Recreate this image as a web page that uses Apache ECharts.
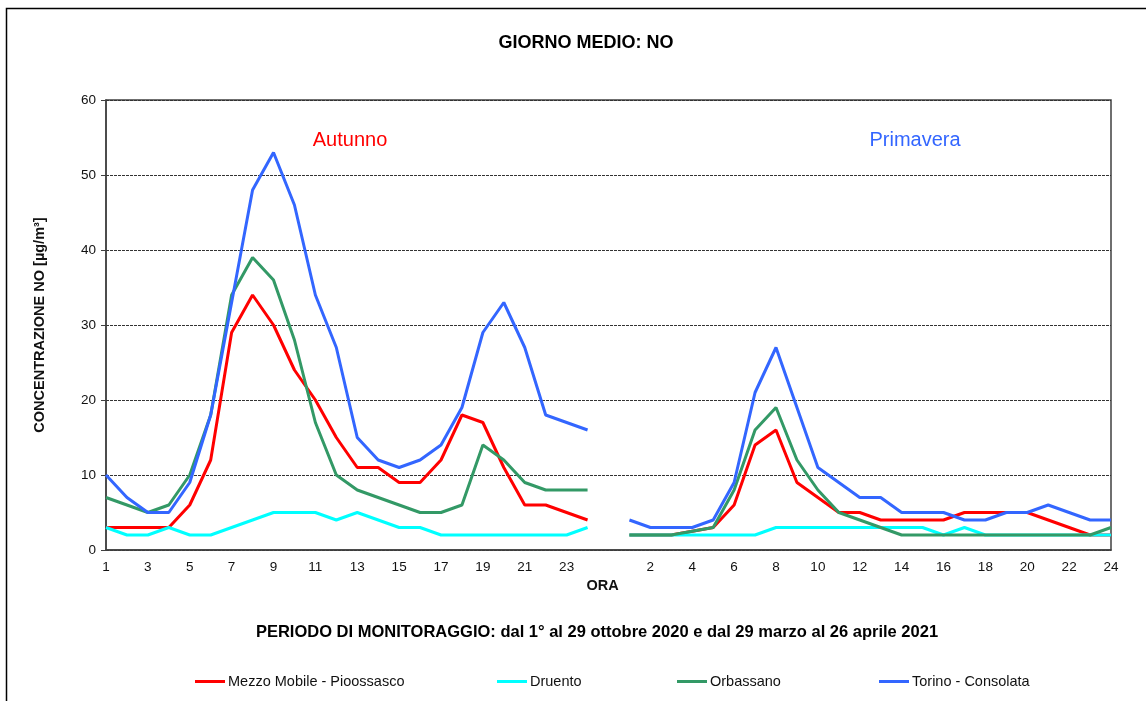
<!DOCTYPE html>
<html>
<head>
<meta charset="utf-8">
<script src="https://cdn.jsdelivr.net/npm/echarts@6/dist/echarts.min.js"></script>
<style>
  html, body { margin: 0; padding: 0; background: #ffffff; }
  #chart { width: 1146px; height: 701px; }
</style>
</head>
<body>
<div id="chart"></div>
<script>
// Hours of the day; the two campaigns share one axis with an empty slot between them
const hoursAutumn = ['1','2','3','4','5','6','7','8','9','10','11','12','13','14','15','16','17','18','19','20','21','22','23','24'];
const hoursSpring = ['1','2','3','4','5','6','7','8','9','10','11','12','13','14','15','16','17','18','19','20','21','22','23','24'];

// Average NO concentration (µg/m³) per hour – autumn campaign
const pioossascoAutumn = [3,3,3,3,6,12,29,34,30,24,20,15,11,11,9,9,12,18,17,11,6,6,5,4];
const druentoAutumn    = [3,2,2,3,2,2,3,4,5,5,5,4,5,4,3,3,2,2,2,2,2,2,2,3];
const orbassanoAutumn  = [7,6,5,6,10,18,34,39,36,28,17,10,8,7,6,5,5,6,14,12,9,8,8,8];
const consolataAutumn  = [10,7,5,5,9,18,33,48,53,46,34,27,15,12,11,12,14,19,29,33,27,18,17,16];

// Average NO concentration (µg/m³) per hour – spring campaign
const pioossascoSpring = [2,2,2,2.5,3,6,14,16,9,7,5,5,4,4,4,4,5,5,5,5,4,3,2,2];
const druentoSpring    = [2,2,2,2,2,2,2,3,3,3,3,3,3,3,3,2,3,2,2,2,2,2,2,2];
const orbassanoSpring  = [2,2,2,2.5,3,8,16,19,12,8,5,4,3,2,2,2,2,2,2,2,2,2,2,3];
const consolataSpring  = [4,3,3,3,4,9,21,27,19,11,9,7,7,5,5,5,4,4,5,5,6,5,4,4];

const yTicks = { min: 0, max: 60, step: 10 };

const categories = hoursAutumn.concat([''], hoursSpring);
const join = (a, b) => a.concat([null], b);

const seriesDefs = [
  { name: 'Mezzo Mobile - Pioossasco', color: '#ff0000', data: join(pioossascoAutumn, pioossascoSpring) },
  { name: 'Druento',                   color: '#00ffff', data: join(druentoAutumn, druentoSpring) },
  { name: 'Orbassano',                 color: '#339966', data: join(orbassanoAutumn, orbassanoSpring) },
  { name: 'Torino - Consolata',        color: '#3366ff', data: join(consolataAutumn, consolataSpring) }
];

const legendLefts = [195, 497, 677, 879];
const baseFont = 'Liberation Sans, Arial, sans-serif';

const chart = echarts.init(document.getElementById('chart'), null, { renderer: 'canvas' });

chart.setOption({
  animation: false,
  backgroundColor: '#ffffff',
  grid: {
    left: 106, right: 35, top: 100, bottom: 151,
    show: true, borderColor: '#404040', borderWidth: 1.5, backgroundColor: 'transparent'
  },
  legend: seriesDefs.map((s, i) => ({
    data: [s.name],
    left: legendLefts[i],
    top: 674,
    icon: 'rect',
    itemWidth: 30,
    itemHeight: 3,
    itemGap: 0,
    padding: 0,
    textStyle: { fontFamily: baseFont, fontSize: 14.5, color: '#111', padding: [0, 0, 0, -2] }
  })),
  xAxis: {
    type: 'category',
    data: categories,
    boundaryGap: false,
    name: 'ORA',
    nameLocation: 'middle',
    nameGap: 25,
    nameTextStyle: { fontFamily: baseFont, fontSize: 14.5, fontWeight: 'bold', color: '#111', padding: [0, 12, 0, 0] },
    axisLine: { lineStyle: { color: '#404040', width: 1.5 } },
    axisTick: { show: false },
    axisLabel: { interval: 1, margin: 10, fontFamily: baseFont, fontSize: 13.5, color: '#111' },
    splitLine: { show: false }
  },
  yAxis: {
    type: 'value',
    min: yTicks.min,
    max: yTicks.max,
    interval: yTicks.step,
    name: 'CONCENTRAZIONE NO [µg/m³]',
    nameLocation: 'middle',
    nameGap: 59,
    nameTextStyle: { fontFamily: baseFont, fontSize: 14.5, fontWeight: 'bold', color: '#111' },
    axisLine: { show: true, lineStyle: { color: '#404040', width: 1.5 } },
    axisTick: { show: true, inside: false, length: 5, lineStyle: { color: '#404040' } },
    axisLabel: { margin: 10, fontFamily: baseFont, fontSize: 13.5, color: '#111' },
    splitLine: { show: true, lineStyle: { color: '#333', width: 1, type: [3, 1] } }
  },
  series: seriesDefs.map(s => ({
    name: s.name,
    type: 'line',
    data: s.data,
    connectNulls: false,
    showSymbol: false,
    symbol: 'none',
    itemStyle: { color: s.color },
    lineStyle: { color: s.color, width: 3 },
    z: 3
  })),
  graphic: [
    { type: 'rect', left: 4, top: 6, shape: { width: 1180, height: 740 }, style: { fill: 'none', stroke: '#000', lineWidth: 1.5 }, silent: true },
    { type: 'text', x: 586, y: 43, style: { text: 'GIORNO MEDIO: NO', textAlign: 'center', textVerticalAlign: 'middle', font: 'bold 18px ' + baseFont, fill: '#000' } },
    { type: 'text', x: 350, y: 140, style: { text: 'Autunno', textAlign: 'center', textVerticalAlign: 'middle', font: '20px ' + baseFont, fill: '#ff0000' } },
    { type: 'text', x: 915, y: 140, style: { text: 'Primavera', textAlign: 'center', textVerticalAlign: 'middle', font: '20px ' + baseFont, fill: '#3366ff' } },
    { type: 'text', x: 597, y: 632, style: { text: 'PERIODO DI MONITORAGGIO: dal 1° al 29 ottobre 2020 e dal 29 marzo al 26 aprile 2021', textAlign: 'center', textVerticalAlign: 'middle', font: 'bold 16.5px ' + baseFont, fill: '#000' } }
  ]
});
</script>
</body>
</html>
